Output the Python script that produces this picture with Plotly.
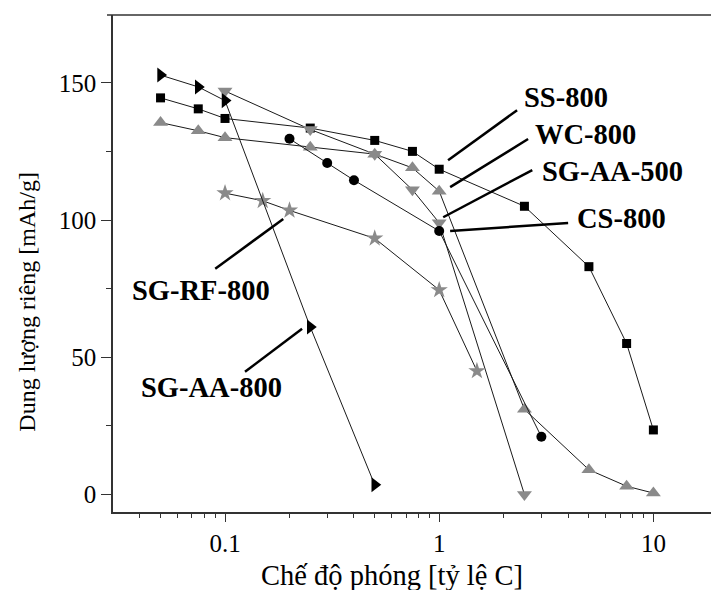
import math
import plotly.graph_objects as go

# Discharge rate (C) and specific capacity (mAh/g) for each material
ss800_x = [0.05, 0.075, 0.1, 0.25, 0.5, 0.75, 1, 2.5, 5, 7.5, 10]
ss800_y = [144.5, 140.5, 137, 133.5, 129, 125, 118.5, 105, 83, 55, 23.5]

wc800_x = [0.05, 0.075, 0.1, 0.25, 0.5, 0.75, 1, 2.5, 5, 7.5, 10]
wc800_y = [135.5, 132.5, 130, 126.5, 124, 119, 110.5, 31, 9, 3, 0.5]

sgaa500_x = [0.1, 0.25, 0.5, 0.75, 1, 2.5]
sgaa500_y = [147, 133, 124, 111, 99, 0]

cs800_x = [0.2, 0.3, 0.4, 1, 3]
cs800_y = [129.6, 120.8, 114.5, 96, 21]

sgrf800_x = [0.1, 0.15, 0.2, 0.5, 1, 1.5]
sgrf800_y = [109.8, 107, 103.5, 93.3, 74.5, 45]

sgaa800_x = [0.05, 0.075, 0.1, 0.25, 0.5]
sgaa800_y = [152.8, 148.5, 143.5, 61, 3.5]

# Series labels: name, text centre (x, y), leader line start and end (x, y)
label_names = ["SS-800", "WC-800", "SG-AA-500", "CS-800", "SG-RF-800", "SG-AA-800"]
label_pos = [(3.92, 144.7), (4.8, 131), (6.42, 117.8), (7.08, 100.4), (0.0774, 74.2), (0.0862, 38.9)]
leader_from = [(1.10, 121.8), (1.125, 112), (1.044, 101), (1.125, 96), (0.090, 82.2), (0.124, 44.7)]
leader_to = [(2.31, 140), (2.60, 129.5), (2.72, 118.2), (4.0, 98.9), (0.187, 100.4), (0.229, 60.4)]

x_major = [0.1, 1, 10]
x_major_text = ["0.1", "1", "10"]
x_minor = [m * d for d in (0.01, 0.1, 1) for m in range(2, 10) if m * d >= 0.04]
y_major = [0, 50, 100, 150]
y_minor = [25, 75, 125]

x_title = "Chế độ phóng [tỷ lệ C]"
y_title = "Dung lượng riêng [mAh/g]"

GRAY = "#8a8a8a"
LINE = "#1a1a1a"
FONT = "Liberation Serif"

series = [
    (ss800_x, ss800_y, "square", "black", 9),
    (wc800_x, wc800_y, "triangle-up", GRAY, 13),
    (sgaa500_x, sgaa500_y, "triangle-down", GRAY, 13),
    (cs800_x, cs800_y, "circle", "black", 10),
    (sgrf800_x, sgrf800_y, "star", GRAY, 13),
    (sgaa800_x, sgaa800_y, "triangle-right", "black", 13),
]

fig = go.Figure()
for (xs, ys, sym, col, sz), name in zip(series, label_names):
    fig.add_trace(go.Scatter(
        x=xs, y=ys, mode="lines+markers", name=name,
        line=dict(color=LINE, width=1),
        marker=dict(symbol=sym, color=col, size=sz, line=dict(width=0)),
        showlegend=False, hoverinfo="x+y+name",
    ))

# Leader lines from each label to its curve
for (x0, y0), (x1, y1) in zip(leader_from, leader_to):
    fig.add_trace(go.Scatter(
        x=[x0, x1], y=[y0, y1], mode="lines",
        line=dict(color="black", width=2.5),
        showlegend=False, hoverinfo="skip",
    ))

for name, (tx, ty) in zip(label_names, label_pos):
    fig.add_annotation(
        x=math.log10(tx), y=ty, xref="x", yref="y",
        text=f"<b>{name}</b>", showarrow=False,
        font=dict(family=FONT, size=28.5, color="black"),
    )

# Axis titles
fig.add_annotation(x=0.4666, y=-0.162, xref="paper", yref="paper",
                   xanchor="center", yanchor="bottom", text=x_title, showarrow=False,
                   font=dict(family=FONT, size=28.5, color="black"))
fig.add_annotation(x=-0.144, y=0.423, xref="paper", yref="paper",
                   xanchor="center", yanchor="middle",
                   text=y_title, showarrow=False, textangle=-90,
                   font=dict(family=FONT, size=24, color="black"))

# Top frame line
fig.add_shape(type="line", xref="paper", yref="paper", x0=-0.01, x1=1, y0=1, y1=1,
              line=dict(color="#333", width=1.5))

fig.update_layout(
    width=711, height=590,
    margin=dict(l=113, r=0, t=15, b=78),
    paper_bgcolor="white", plot_bgcolor="white",
    font=dict(family=FONT, color="black"),
)
fig.update_xaxes(
    type="log", range=[-1.523, 1.269],
    showline=True, linecolor="#333", linewidth=1.5,
    showgrid=False, zeroline=False,
    tickmode="array", tickvals=x_major, ticktext=x_major_text,
    ticks="outside", ticklen=8, tickwidth=1.2, tickcolor="#333",
    tickfont=dict(family=FONT, size=25, color="black"),
    minor=dict(tickmode="array", tickvals=x_minor, ticks="outside", ticklen=4,
               tickwidth=1.2, tickcolor="#333", showgrid=False),
)
fig.update_yaxes(
    range=[-6.4, 174.7],
    showline=True, linecolor="#333", linewidth=1.5,
    showgrid=False, zeroline=False,
    tickmode="array", tickvals=y_major,
    ticks="outside", ticklen=10, tickwidth=1.2, tickcolor="#333",
    tickfont=dict(family=FONT, size=25, color="black"),
    minor=dict(tickmode="array", tickvals=y_minor, ticks="outside", ticklen=5,
               tickwidth=1.2, tickcolor="#333", showgrid=False),
)

fig.write_html("out.html")
